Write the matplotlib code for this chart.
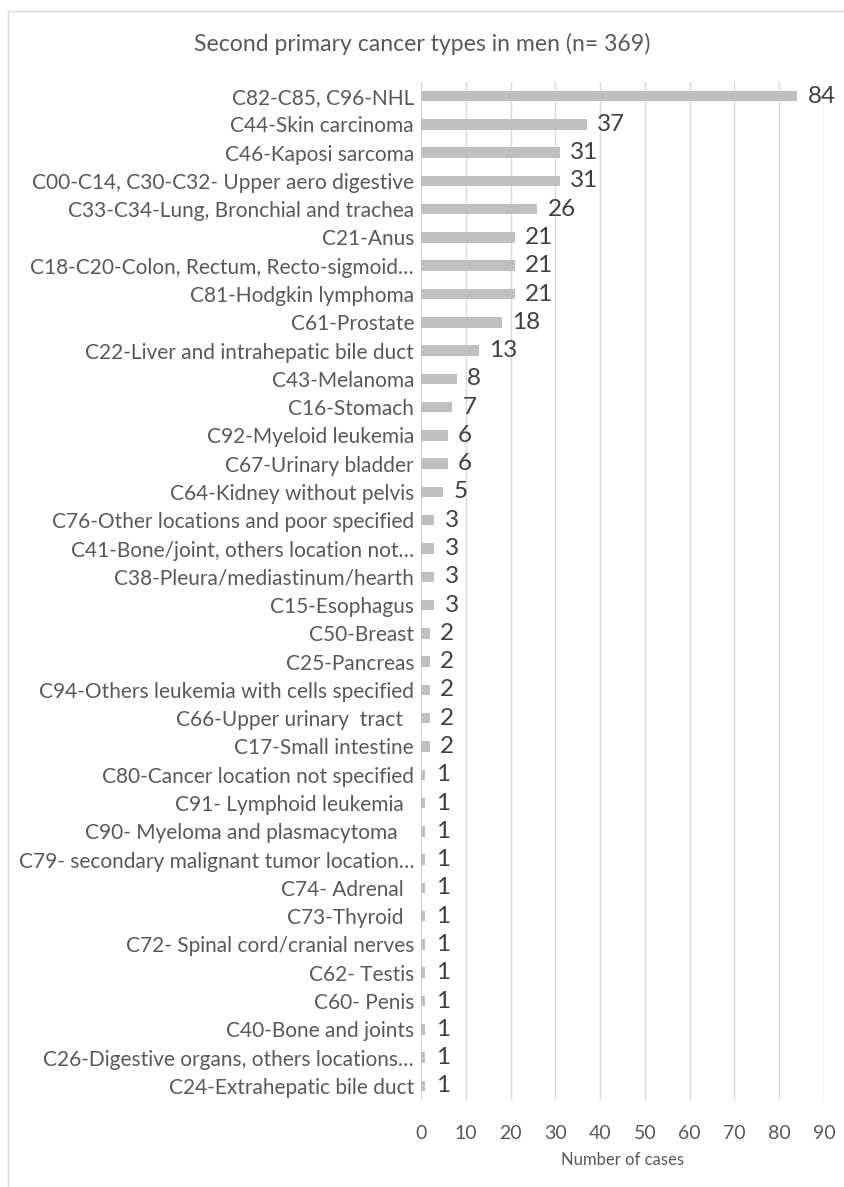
import matplotlib.pyplot as plt
from matplotlib.patches import Rectangle

plt.rcParams['font.family'] = ['Lato', 'DejaVu Sans']

# categories from top to bottom, as in the picture
categories = [
    "C82-C85, C96-NHL",
    "C44-Skin carcinoma",
    "C46-Kaposi sarcoma",
    "C00-C14, C30-C32- Upper aero digestive",
    "C33-C34-Lung, Bronchial and trachea",
    "C21-Anus",
    "C18-C20-Colon, Rectum, Recto-sigmoid…",
    "C81-Hodgkin lymphoma",
    "C61-Prostate",
    "C22-Liver and intrahepatic bile duct",
    "C43-Melanoma",
    "C16-Stomach",
    "C92-Myeloid leukemia",
    "C67-Urinary bladder",
    "C64-Kidney without pelvis",
    "C76-Other locations and poor specified",
    "C41-Bone/joint, others location not…",
    "C38-Pleura/mediastinum/hearth",
    "C15-Esophagus",
    "C50-Breast",
    "C25-Pancreas",
    "C94-Others leukemia with cells specified",
    "C66-Upper urinary  tract  ",
    "C17-Small intestine",
    "C80-Cancer location not specified",
    "C91- Lymphoid leukemia  ",
    "C90- Myeloma and plasmacytoma   ",
    "C79- secondary malignant tumor location…",
    "C74- Adrenal  ",
    "C73-Thyroid  ",
    "C72- Spinal cord/cranial nerves",
    "C62- Testis",
    "C60- Penis",
    "C40-Bone and joints",
    "C26-Digestive organs, others locations…",
    "C24-Extrahepatic bile duct",
]
cases = [84, 37, 31, 31, 26, 21, 21, 21, 18, 13, 8, 7, 6, 6, 5,
         3, 3, 3, 3, 2, 2, 2, 2, 2, 1, 1, 1, 1, 1, 1, 1, 1, 1, 1, 1, 1]
xticks = [0, 10, 20, 30, 40, 50, 60, 70, 80, 90]

text_color = "#595959"

fig = plt.figure(figsize=(8.45, 11.87), dpi=100)
ax = fig.add_axes([0.4982, 0.0733, 0.4769, 0.8577])

ypos = list(range(len(categories)))
ax.barh(ypos, cases, height=0.37, color="#BFBFBF", zorder=2)
ax.set_ylim(len(categories) - 0.5, -0.5)
ax.set_xlim(0, 90)

for y, v in zip(ypos, cases):
    ax.text(v + 2.3, y, str(v), va="center", ha="left", fontsize=17.5,
            color="#404040")

ax.set_yticks(ypos)
ax.set_yticklabels(categories, fontsize=15, color=text_color)
ax.set_xticks(xticks)
ax.set_xticklabels([str(t) for t in xticks], fontsize=14, color=text_color)
ax.tick_params(axis="both", length=0)
ax.tick_params(axis="y", pad=5)
ax.tick_params(axis="x", pad=18)
ax.grid(axis="x", color="#D9D9D9", linewidth=1, zorder=0)
for s in ax.spines.values():
    s.set_visible(False)

ax.set_xlabel("Number of cases", fontsize=12, color=text_color, labelpad=7)
fig.text(0.5, 0.963, "Second primary cancer types in men (n= 369)",
         ha="center", va="center", fontsize=16.6, color=text_color)

# chart frame
fig.patches.append(Rectangle((8 / 845, -0.01), 1.0, 1 - 11 / 1187 + 0.01,
                             transform=fig.transFigure, fill=False,
                             edgecolor="#D9D9D9", linewidth=1))

fig.savefig("out.png", dpi=100)
